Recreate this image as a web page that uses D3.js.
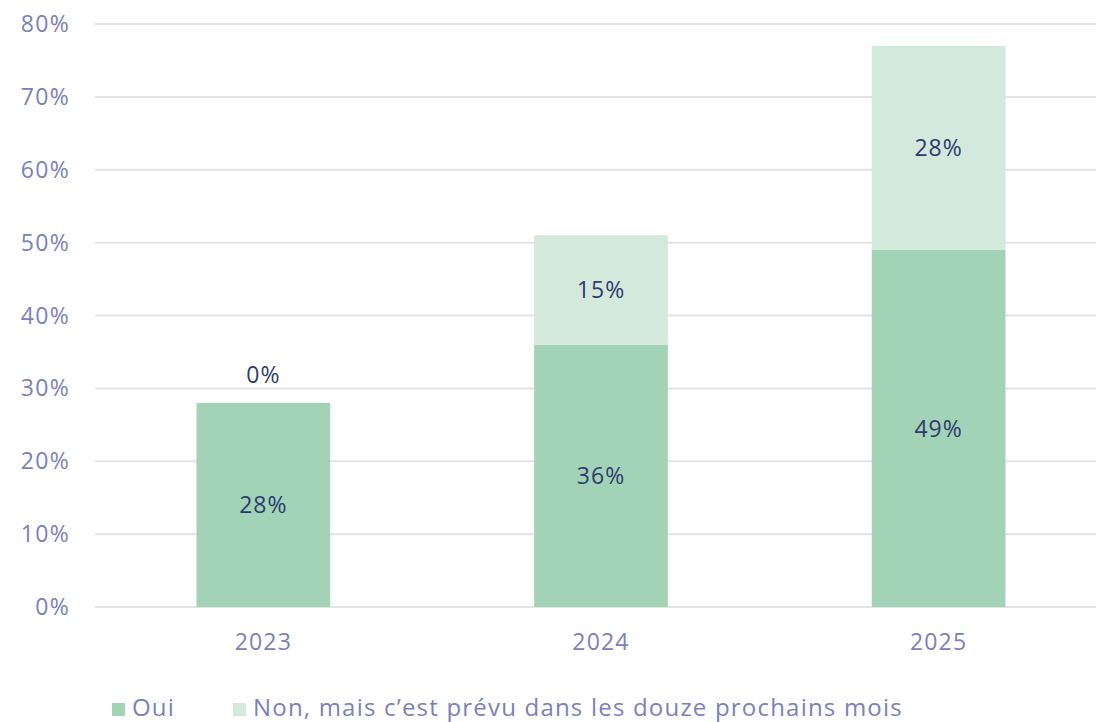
<!DOCTYPE html>
<html>
<head>
<meta charset="utf-8">
<script src="https://cdn.jsdelivr.net/npm/d3@7"></script>
<style>
  body { margin: 0; background: #fff; }
  svg { display: block; font-family: "Open Sans", "Noto Sans", sans-serif; }
</style>
</head>
<body>
<svg id="canvas"></svg>
<script>
let width = 1096, height = 722

// data
const years = ["2023", "2024", "2025"]
const oui = [28, 36, 49]
const prevu = [0, 15, 28]
const seriesNames = ["Oui", "Non, mais c\u2019est prévu dans les douze prochains mois"]
const yTicks = [0, 10, 20, 30, 40, 50, 60, 70, 80]

const colors = ["#a2d3b6", "#d3e9dc"]
const axisColor = "#7b81b9"
const labelColor = "#2f3b70"

let svg = d3.select('#canvas').attr("width", width).attr("height", height)

let x = d3.scaleBand().domain(years).range([101, 1101]).paddingInner(0.604).paddingOuter(0.283)
let y = d3.scaleLinear().domain([0, 80]).range([607, 24])

// grid
svg.selectAll(".grid")
  .data(yTicks)
  .enter()
  .append("line")
  .attr("x1", 95).attr("x2", width)
  .attr("y1", d => y(d)).attr("y2", d => y(d))
  .style("stroke", "#e3e3e3")
  .style("stroke-width", 2)

svg.selectAll(".ytick")
  .data(yTicks)
  .enter()
  .append("text")
  .attr("x", 70)
  .attr("y", d => y(d))
  .attr("dy", "0.35em")
  .attr("text-anchor", "end")
  .style("font-size", "23px")
  .style("letter-spacing", "1.3px")
  .style("fill", axisColor)
  .text(d => d + "%")

let rows = years.map((yr, i) => ({ year: yr, oui: oui[i], prevu: prevu[i] }))
let stack = d3.stack().keys(["oui", "prevu"])(rows)

stack.forEach((layer, k) => {
  svg.selectAll(".bar" + k)
    .data(layer)
    .enter()
    .append("rect")
    .attr("x", d => x(d.data.year))
    .attr("y", d => y(d[1]))
    .attr("width", x.bandwidth())
    .attr("height", d => y(d[0]) - y(d[1]))
    .style("fill", colors[k])

  svg.selectAll(".lbl" + k)
    .data(layer)
    .enter()
    .append("text")
    .attr("x", d => x(d.data.year) + x.bandwidth() / 2)
    .attr("y", d => d[1] - d[0] > 0 ? (y(d[0]) + y(d[1])) / 2 : y(d[1]) - 28)
    .attr("dy", "0.35em")
    .attr("text-anchor", "middle")
    .style("font-size", "23px")
    .style("font-weight", 500)
    .style("letter-spacing", "1px")
    .style("fill", labelColor)
    .text(d => (d[1] - d[0]) + "%")
})

svg.selectAll(".xtick")
  .data(years)
  .enter()
  .append("text")
  .attr("x", d => x(d) + x.bandwidth() / 2)
  .attr("y", 642)
  .attr("dy", "0.35em")
  .attr("text-anchor", "middle")
  .style("font-size", "23px")
  .style("letter-spacing", "1.2px")
  .style("fill", axisColor)
  .text(d => d)

// legend
let legendX = [112, 233]
seriesNames.forEach((name, i) => {
  svg.append("rect")
    .attr("x", legendX[i]).attr("y", 703)
    .attr("width", 13).attr("height", 13)
    .style("fill", colors[i])
  svg.append("text")
    .attr("x", legendX[i] + 20)
    .attr("y", 716)
    .style("font-size", "24px")
    .style("letter-spacing", "1.2px")
    .style("fill", axisColor)
    .text(name)
})
</script>
</body>
</html>
